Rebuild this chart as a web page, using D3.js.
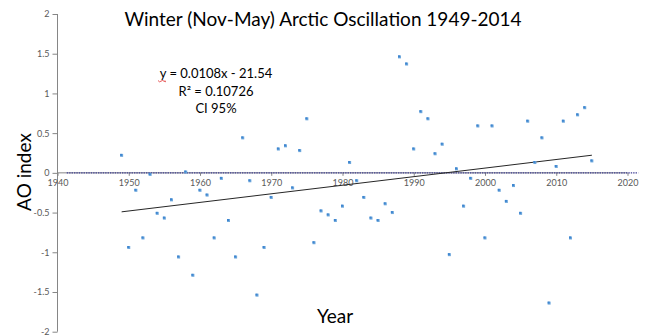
<!DOCTYPE html>
<html>
<head>
<meta charset="utf-8">
<script src="https://cdn.jsdelivr.net/npm/d3@7"></script>
<style>
  html, body { margin: 0; padding: 0; background: #fff; }
  svg { display: block; }
  text { font-family: Lato, "Open Sans", sans-serif; }
</style>
</head>
<body>
<svg id="chart" width="645" height="336"></svg>
<script>
// Winter (Nov-May) Arctic Oscillation index, one value per year
const years = d3.range(1949, 2016);
const aoIndex = [
  0.22, -0.94, -0.22, -0.82, -0.02, -0.51, -0.57, -0.34, -1.06, 0.01,
  -1.29, -0.22, -0.28, -0.82, -0.07, -0.60, -1.06, 0.44, -0.10, -1.54,
  -0.94, -0.31, 0.30, 0.34, -0.19, 0.28, 0.68, -0.88, -0.48, -0.53,
  -0.60, -0.42, 0.13, -0.10, -0.31, -0.57, -0.60, -0.39, -0.50, 1.46,
  1.37, 0.30, 0.77, 0.68, 0.24, 0.36, -1.03, 0.05, -0.42, -0.07,
  0.59, -0.82, 0.59, -0.22, -0.36, -0.16, -0.51, 0.65, 0.13, 0.44,
  -1.64, 0.08, 0.65, -0.82, 0.73, 0.82, 0.15
];

// Linear trend as printed on the chart: y = 0.0108x - 21.54
const trendSlope = 0.0108;
const trendIntercept = -21.54;
const trendYears = [1949, 2015];

// Zero reference series (dotted)
const zeroLineYears = [1941.3, 2021.5];

const xTicks = [1940, 1950, 1960, 1970, 1980, 1990, 2000, 2010, 2020];
const yTicks = [-2, -1.5, -1, -0.5, 0, 0.5, 1, 1.5, 2];
const yTickLabels = ["-2", "-1.5", "-1", "-0.5", "0", "0.5", "1", "1.5", "2"];

const titleText = "Winter (Nov-May) Arctic Oscillation 1949-2014";
const equationLines = ["y = 0.0108x - 21.54", "R\u00b2 = 0.10726", "CI 95%"];

const svg = d3.select("#chart");

const x = d3.scaleLinear().domain([1940, 2020]).range([57.5, 627.5]);
const y = d3.scaleLinear().domain([-2, 2]).range([331.7, 14]);

const axisColor = "#868686";
const labelColor = "#595959";

// Vertical axis
const yAxis = svg.append("g")
  .attr("transform", `translate(${x(1940)},0)`)
  .call(d3.axisLeft(y)
    .tickValues(yTicks)
    .tickSize(5)
    .tickPadding(3)
    .tickFormat((d, i) => yTickLabels[i]));
yAxis.select(".domain").attr("stroke", axisColor).attr("d", `M0,${y(2)}V${y(-2)}`);
yAxis.selectAll(".tick line").attr("stroke", axisColor);
yAxis.selectAll(".tick text")
  .attr("fill", labelColor)
  .style("font-size", "9px")
  .style("font-family", "Lato, sans-serif");

// Horizontal axis through zero
const xAxis = svg.append("g")
  .attr("transform", `translate(0,${y(0)})`)
  .call(d3.axisBottom(x)
    .tickValues(xTicks)
    .tickSize(3)
    .tickPadding(4)
    .tickFormat(d3.format("d")));
xAxis.select(".domain").attr("stroke", axisColor).attr("d", `M${x(1940)},0H${x(2020)}`);
xAxis.selectAll(".tick line").attr("stroke", axisColor);
xAxis.selectAll(".tick text")
  .attr("fill", labelColor)
  .style("font-size", "9px")
  .style("font-family", "Lato, sans-serif");

// Dotted zero series
svg.append("line")
  .attr("x1", x(zeroLineYears[0]))
  .attr("x2", x(zeroLineYears[1]))
  .attr("y1", y(0))
  .attr("y2", y(0))
  .attr("stroke", "#3d3d94")
  .attr("stroke-width", 1.2)
  .attr("stroke-dasharray", "1.4,1");

// Trend line
const trend = trendYears.map(t => [t, trendSlope * t + trendIntercept]);
svg.append("path")
  .datum(trend)
  .attr("fill", "none")
  .attr("stroke", "#262626")
  .attr("stroke-width", 1)
  .attr("d", d3.line().x(d => x(d[0])).y(d => y(d[1])));

// Yearly markers
const pts = svg.append("g");
const data = years.map((yr, i) => ({ yr, v: aoIndex[i] }));
pts.selectAll("rect.m")
  .data(data)
  .join("rect")
  .attr("class", "m")
  .attr("x", d => x(d.yr) - 1.5)
  .attr("y", d => y(d.v) - 1.5)
  .attr("width", 3)
  .attr("height", 3)
  .attr("fill", "#6fa8dc");
pts.selectAll("rect.c")
  .data(data)
  .join("rect")
  .attr("class", "c")
  .attr("x", d => x(d.yr) - 1.5)
  .attr("y", d => y(d.v) - 1.5)
  .attr("width", 2)
  .attr("height", 2)
  .attr("fill", "#3f86d0");

// Title
svg.append("text")
  .attr("x", 323)
  .attr("y", 26)
  .attr("text-anchor", "middle")
  .attr("fill", "#000")
  .style("font-size", "19px")
  .text(titleText);

// Trend equation block
const eq = svg.append("text")
  .attr("text-anchor", "middle")
  .attr("fill", "#000")
  .style("font-size", "13px");
equationLines.forEach((line, i) => {
  eq.append("tspan")
    .attr("x", 216)
    .attr("y", 78 + i * 17.5)
    .text(line);
});

// Spell-check squiggle under the leading "y"
const sq = d3.path();
sq.moveTo(158, 80.5);
[161, 164, 167].forEach((px, i) => sq.lineTo(px - 1.5, i % 2 ? 80.5 : 81.8));
sq.lineTo(165, 80.5);
svg.append("path")
  .attr("d", sq.toString())
  .attr("fill", "none")
  .attr("stroke", "#e03030")
  .attr("stroke-width", 0.8);

// Axis titles
svg.append("text")
  .attr("transform", `translate(31,172) rotate(-90)`)
  .attr("text-anchor", "middle")
  .attr("fill", "#000")
  .style("font-size", "19px")
  .text("AO index");

svg.append("text")
  .attr("x", 335)
  .attr("y", 323)
  .attr("text-anchor", "middle")
  .attr("fill", "#000")
  .style("font-size", "19px")
  .text("Year");
</script>
</body>
</html>
